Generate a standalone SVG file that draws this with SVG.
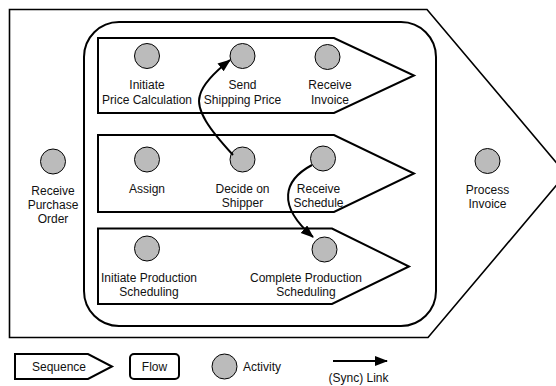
<svg xmlns="http://www.w3.org/2000/svg" width="556" height="386" viewBox="0 0 556 386">
<defs>
<style>
.seq{fill:#fff;stroke:#000;stroke-width:2;stroke-linejoin:miter}
.outer{fill:#fff;stroke:#000;stroke-width:1.6}
.flow{fill:#fff;stroke:#000;stroke-width:2}
.act{fill:#bbb;stroke:#000;stroke-width:1}
.lbl{font-family:"Liberation Sans",Arial,sans-serif;font-size:12px;fill:#111;text-anchor:middle}
.lnk{fill:none;stroke:#000;stroke-width:2}
</style>
<marker id="ah" markerUnits="userSpaceOnUse" markerWidth="14" markerHeight="12" refX="12" refY="5" orient="auto">
<path d="M0,0 L13,5 L0,10 Z" fill="#000"/>
</marker>
</defs>
<rect width="556" height="386" fill="#fff"/>

<g id="seq-main">
<polygon class="outer" points="9.5,9.5 427,9.5 566,174 428,337.5 9.5,337.5"/>
</g>
<g id="flow-main">
<rect class="flow" x="84" y="22" width="352" height="304" rx="35" ry="35"/>
</g>
<g id="seq-price">
<polygon class="seq" points="98,38 334,38 414,75.5 334,113 98,113"/>
</g>
<g id="seq-ship">
<polygon class="seq" points="98,135 334,135 414,173.5 334,212 98,212"/>
</g>
<g id="seq-prod">
<polygon class="seq" points="98,228.5 332,228.5 409,266.5 332,304 98,304"/>
</g>

<g id="act-receive-po">
<circle class="act" cx="53" cy="161.5" r="12.5"/>
<text class="lbl" x="53" y="195">Receive</text>
<text class="lbl" x="53" y="209">Purchase</text>
<text class="lbl" x="53" y="223">Order</text>
</g>
<g id="act-init-price">
<circle class="act" cx="147" cy="56" r="12.5"/>
<text class="lbl" x="147" y="89">Initiate</text>
<text class="lbl" x="147" y="103.5">Price Calculation</text>
</g>
<g id="act-send-price">
<circle class="act" cx="242.5" cy="56" r="12.5"/>
<text class="lbl" x="242.5" y="89">Send</text>
<text class="lbl" x="242.5" y="103.5">Shipping Price</text>
</g>
<g id="act-receive-invoice">
<circle class="act" cx="327.5" cy="57" r="12.5"/>
<text class="lbl" x="330" y="89">Receive</text>
<text class="lbl" x="330" y="103.5">Invoice</text>
</g>
<g id="act-assign">
<circle class="act" cx="147" cy="159.5" r="12.5"/>
<text class="lbl" x="147" y="193">Assign</text>
</g>
<g id="act-decide">
<circle class="act" cx="242.5" cy="159.5" r="12.5"/>
<text class="lbl" x="242.5" y="193">Decide on</text>
<text class="lbl" x="242.5" y="207">Shipper</text>
</g>
<g id="act-receive-schedule">
<circle class="act" cx="323" cy="158.5" r="12.5"/>
<text class="lbl" x="318.5" y="193">Receive</text>
<text class="lbl" x="318.5" y="207">Schedule</text>
</g>
<g id="act-process-invoice">
<circle class="act" cx="487.5" cy="161" r="12.5"/>
<text class="lbl" x="487.5" y="194">Process</text>
<text class="lbl" x="487.5" y="208">Invoice</text>
</g>
<g id="act-init-prod">
<circle class="act" cx="147" cy="248.5" r="12.5"/>
<text class="lbl" x="149" y="282">Initiate Production</text>
<text class="lbl" x="149" y="296">Scheduling</text>
</g>
<g id="act-complete-prod">
<circle class="act" cx="324.5" cy="249.5" r="12.5"/>
<text class="lbl" x="306" y="282">Complete Production</text>
<text class="lbl" x="306" y="296">Scheduling</text>
</g>

<g id="connectors">
<path class="lnk" d="M233,155 C210,130 195,110 200,95 C203,84 216,71 230,60" marker-end="url(#ah)"/>
<path class="lnk" d="M312,165 C284,180 276,205 313,237" marker-end="url(#ah)"/>
</g>

<g id="legend-sequence">
<polygon class="seq" points="15,354 88,354 112,366.5 88,379 15,379"/>
<text class="lbl" x="59" y="370.5">Sequence</text>
</g>
<g id="legend-flow">
<rect class="flow" x="130" y="354" width="49" height="25" rx="4" ry="4"/>
<text class="lbl" x="154.5" y="370.5">Flow</text>
</g>
<g id="legend-activity">
<circle class="act" cx="224.5" cy="366.5" r="12.5"/>
<text class="lbl" x="243" y="371" style="text-anchor:start">Activity</text>
</g>
<g id="legend-link">
<line class="lnk" x1="333" y1="361" x2="387" y2="361" marker-end="url(#ah)"/>
<text class="lbl" x="358.5" y="382">(Sync) Link</text>
</g>
</svg>
